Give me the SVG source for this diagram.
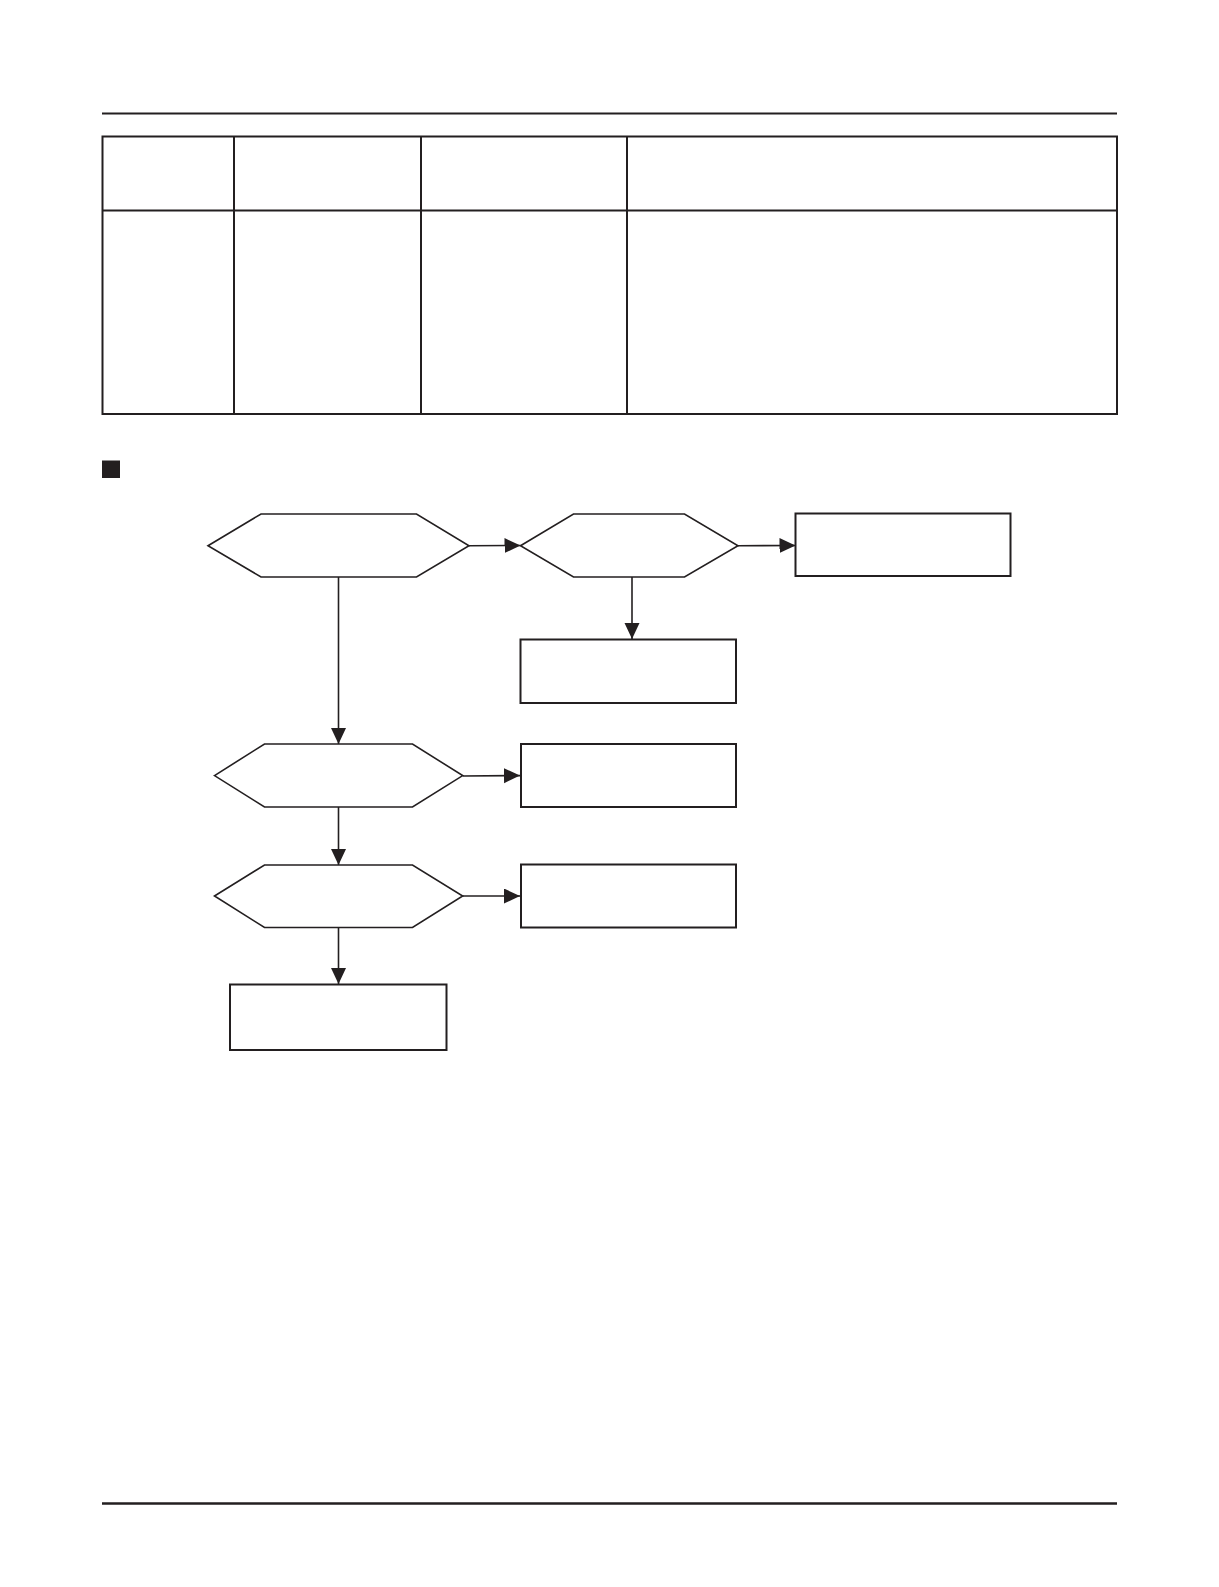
<svg xmlns="http://www.w3.org/2000/svg" width="1219" height="1587" viewBox="0 0 1219 1587">
<style>
.rule{stroke:#231f20;stroke-width:2;fill:none}
.tbl{stroke:#231f20;stroke-width:2;fill:none}
.hex{stroke:#231f20;stroke-width:1.6;fill:#fff}
.box{stroke:#231f20;stroke-width:2;fill:#fff}
.conn{stroke:#231f20;stroke-width:1.6;fill:none}
</style>
<defs>
<marker id="arr" markerUnits="userSpaceOnUse" markerWidth="17" markerHeight="16" refX="16" refY="7.5" orient="auto">
<path d="M0,0 L16,7.5 L0,15 z" fill="#231f20"/>
</marker>
</defs>
<rect width="1219" height="1587" fill="#fff"/>
<line class="rule" x1="102" y1="113.5" x2="1117" y2="113.5"/>
<g id="table">
<rect class="tbl" x="102.5" y="136.5" width="1014.5" height="277.5"/>
<line class="tbl" x1="102.5" y1="210.5" x2="1117" y2="210.5"/>
<line class="tbl" x1="234" y1="136.5" x2="234" y2="414"/>
<line class="tbl" x1="421" y1="136.5" x2="421" y2="414"/>
<line class="tbl" x1="627" y1="136.5" x2="627" y2="414"/>
</g>
<rect id="bullet" x="102" y="460.5" width="18" height="17.5" fill="#231f20"/>
<g id="connectors">
<line class="conn" x1="469" y1="545.7" x2="520.5" y2="545.5" marker-end="url(#arr)"/>
<line class="conn" x1="738" y1="545.7" x2="795.5" y2="545.5" marker-end="url(#arr)"/>
<line class="conn" x1="632" y1="577" x2="632" y2="639" marker-end="url(#arr)"/>
<line class="conn" x1="338.5" y1="577" x2="338.5" y2="744" marker-end="url(#arr)"/>
<line class="conn" x1="462.7" y1="776" x2="520" y2="775.6" marker-end="url(#arr)"/>
<line class="conn" x1="338.5" y1="807" x2="338.5" y2="865" marker-end="url(#arr)"/>
<line class="conn" x1="462.7" y1="896" x2="520" y2="896" marker-end="url(#arr)"/>
<line class="conn" x1="338.5" y1="927.5" x2="338.5" y2="984" marker-end="url(#arr)"/>
</g>
<g id="hex1"><polygon class="hex" points="208,545.7 261,514 416.5,514 469,545.7 416.5,577 261,577"/></g>
<g id="hex2"><polygon class="hex" points="520.5,545.7 573.5,514 684.5,514 738,545.7 684.5,577 573.5,577"/></g>
<g id="box1"><rect class="box" x="795.5" y="513.5" width="215" height="62.5"/></g>
<g id="box2"><rect class="box" x="520.5" y="639.5" width="215.5" height="63.5"/></g>
<g id="hex3"><polygon class="hex" points="214.5,775.6 264.5,744 412.5,744 462.7,775.6 412.5,807 264.5,807"/></g>
<g id="box3"><rect class="box" x="521" y="744" width="215" height="63"/></g>
<g id="hex4"><polygon class="hex" points="214.5,896 264.5,865 412.5,865 462.7,896 412.5,927.5 264.5,927.5"/></g>
<g id="box4"><rect class="box" x="521" y="864.5" width="215" height="63"/></g>
<g id="box5"><rect class="box" x="230" y="984.5" width="216.5" height="65.5"/></g>
<line x1="102" y1="1503.5" x2="1117" y2="1503.5" stroke="#231f20" stroke-width="2.6"/>
</svg>
